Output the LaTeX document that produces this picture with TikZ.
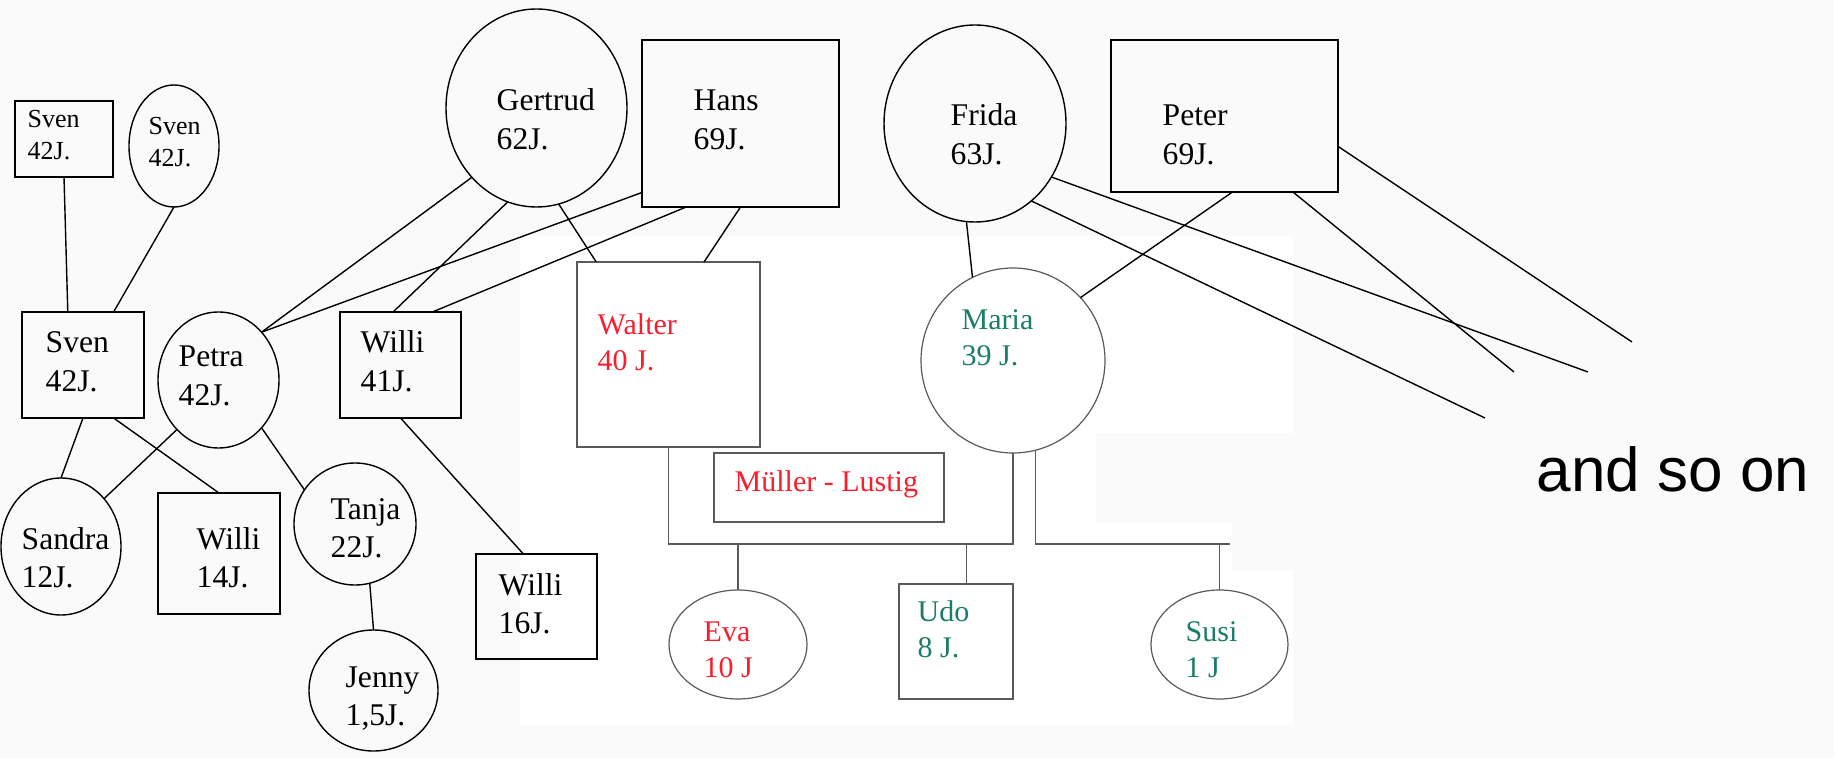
\documentclass[tikz,border=0pt]{standalone}
\usepackage{fontspec}
\setmainfont{Liberation Serif}
\newfontfamily\sansfont{Liberation Sans}
\usepackage{tikz}
\usetikzlibrary{calc}
\usetikzlibrary{shapes.geometric}

\definecolor{bggray}{RGB}{250,250,250}
\definecolor{namered}{RGB}{250,30,45}
\definecolor{nameteal}{RGB}{25,125,105}
\definecolor{linegray}{RGB}{90,90,90}

\newcommand{\twoline}[2]{\vtop{\hbox{#1}\hbox{#2}}}

\begin{document}
\begin{tikzpicture}[x=0.5pt, y=-0.5pt, line width=0.7pt,
	man/.style 2 args={draw, rectangle, inner sep=0pt, outer sep=0pt, minimum width=#1, minimum height=#2},
	woman/.style 2 args={draw, ellipse, inner sep=0pt, outer sep=0pt, minimum width=#1, minimum height=#2},
	kin/.style={draw=linegray, line width=0.6pt},
	textbig/.style={anchor=base west, inner sep=0pt, font=\fontsize{15.8}{19.3}\selectfont},
	textsmall/.style={anchor=base west, inner sep=0pt, font=\fontsize{13}{15.8}\selectfont},
	textcol/.style={anchor=base west, inner sep=0pt, text=#1, font=\fontsize{15}{18}\selectfont}]
			
			\useasboundingbox (0,0) rectangle (1834,758);
			\fill[bggray] (0,0) rectangle (1834,758);
			\fill[white] (520,236) -- (1293,236) -- (1293,433) -- (1096,433) -- (1096,523) -- (1232,523)
				-- (1232,570) -- (1293,570) -- (1293,725) -- (520,725) -- cycle;
			
			% left family
			\node[man={49pt}{38pt}] (svenA) at (64,139) {};
			\node[woman={45pt}{61pt}] (svenB) at (174,146) {};
			\node[man={61pt}{53pt}] (svenC) at (83,365) {};
			\node[woman={60.5pt}{68pt}] (petra) at (218.5,380) {};
			\node[man={60.5pt}{53pt}] (williA) at (400.5,365) {};
			\node[woman={60pt}{68.5pt}] (sandra) at (61,546.5) {};
			\node[man={61pt}{60.5pt}] (williB) at (219,553.5) {};
			\node[woman={61pt}{61pt}] (tanja) at (355,524) {};
			\node[woman={64.5pt}{60.5pt}] (jenny) at (373.5,690.5) {};
			\node[man={60.5pt}{52.5pt}] (williC) at (536.5,606.5) {};
			
			% grandparents
			\node[woman={90.5pt}{99pt}] (gertrud) at (536.5,108) {};
			\node[man={98.5pt}{83.5pt}] (hans) at (740.5,123.5) {};
			\node[woman={91pt}{98.5pt}] (frida) at (975,123.5) {};
			\node[man={113.5pt}{76pt}] (peter) at (1224.5,116) {};
			
			% Mueller - Lustig
			\node[man={91.5pt}{92.5pt}, kin] (walter) at (668.5,354.5) {};
			\node[woman={92pt}{92.5pt}, kin] (maria) at (1013,360.5) {};
			\node[man={115pt}{34.5pt}, kin] (mueller) at (829,487.5) {};
			\node[woman={69pt}{54.5pt}, kin] (eva) at (738,644.5) {};
			\node[man={57pt}{57.5pt}, kin] (udo) at (956,641.5) {};
			\node[woman={68.5pt}{54.5pt}, kin] (susi) at (1219.5,644.5) {};
			
			\coordinate (famA) at (840,544);
			\coordinate (famB) at (1230,544);
			\coordinate (outA) at (1632,342);
			\coordinate (outB) at (1514,372);
			\coordinate (outC) at (1588,372);
			\coordinate (outD) at (1485,418);
			
			\draw (svenA.south) -- (svenC.106);
			\draw (svenB.south) -- (svenC.60);
			\draw (svenC.south) -- (sandra.north);
			\draw (svenC.-60) -- (williB.north);
			\draw (petra.230) -- (sandra.48);
			\draw (petra.-48) -- (tanja.146);
			\draw (tanja.-76) -- (jenny.north);
			\draw (williA.south) -- (williC.104);
			\draw (gertrud.227) -- (petra.48);
			\draw (gertrud.253) -- (williA.98);
			\draw (gertrud.-77) -- (walter.128);
			\draw (hans.215) -- (petra.48);
			\draw (hans.237) -- (williA.59);
			\draw (hans.south) -- (walter.69);
			\draw (frida.265) -- (maria.116);
			\draw (peter.-84) -- (maria.43);
			\draw (frida.-35) -- (outC);
			\draw (frida.-54) -- (outD);
			\draw (peter.-48) -- (outB);
			\draw (peter.-15) -- (outA);
			
			\draw[kin] (walter.south) |- (famA) -| (maria.south);
			\draw[kin] (maria.-76) |- (famB);
			\draw[kin] (eva.north) -- (eva.north |- famA);
			\draw[kin] (udo.80) -- (udo.80 |- famA);
			\draw[kin] (susi.north) -- (susi.north |- famB);
			
			% names
			\node[textsmall] (svenAtext) at (27,128) {\twoline{Sven}{42J.}};
			\node[textsmall] (svenBtext) at (148,135) {\twoline{Sven}{42J.}};
			\node[textbig] (svenCtext) at (45,353) {\twoline{Sven}{42J.}};
			\node[textbig] (petratext) at (178,367) {\twoline{Petra}{42J.}};
			\node[textbig] (williAtext) at (360,353) {\twoline{Willi}{41J.}};
			\node[textbig] (sandratext) at (21,549) {\twoline{Sandra}{12J.}};
			\node[textbig] (williBtext) at (196,549) {\twoline{Willi}{14J.}};
			\node[textbig] (tanjatext) at (330,519) {\twoline{Tanja}{22J.}};
			\node[textbig] (jennytext) at (345,687) {\twoline{Jenny}{1,5J.}};
			\node[textbig] (williCtext) at (498,595) {\twoline{Willi}{16J.}};
			\node[textbig] (gertrudtext) at (496,111) {\twoline{Gertrud}{62J.}};
			\node[textbig] (hanstext) at (693,111) {\twoline{Hans}{69J.}};
			\node[textbig] (fridatext) at (950,126) {\twoline{Frida}{63J.}};
			\node[textbig] (petertext) at (1162,126) {\twoline{Peter}{69J.}};
			
			\node[textcol=namered] (waltertext) at (597,335) {\twoline{Walter}{40 J.}};
			\node[textcol=nameteal] (mariatext) at (961,330) {\twoline{Maria}{39 J.}};
			\node[textcol=namered] (muellertext) at (734,491) {Müller - Lustig};
			\node[textcol=namered] (evatext) at (703,641) {\twoline{Eva}{10 J}};
			\node[textcol=nameteal] (udotext) at (917,621) {\twoline{Udo}{8 J.}};
			\node[textcol=nameteal] (susitext) at (1185,641) {\twoline{Susi}{1 J}};
			
			\node[anchor=base west, inner sep=0pt, font=\sansfont\fontsize{31}{37}\selectfont] (soon) at (1536,491) {and so on};
			
\end{tikzpicture}
\end{document}
